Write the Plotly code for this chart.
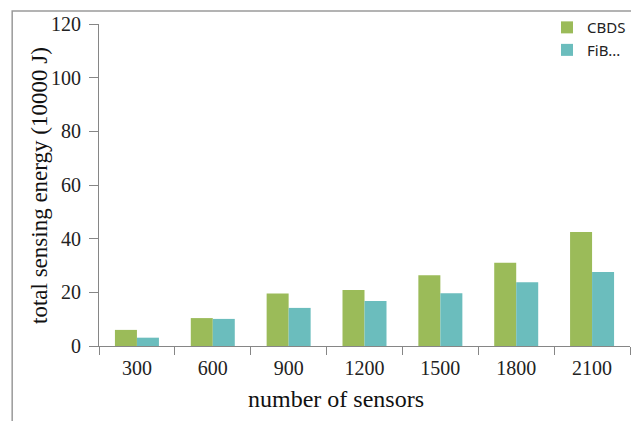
import plotly.graph_objects as go

sensors = ["300", "600", "900", "1200", "1500", "1800", "2100"]
cbds = [6.0, 10.4, 19.6, 20.9, 26.4, 31.0, 42.5]
fib = [3.1, 10.1, 14.2, 16.8, 19.7, 23.8, 27.6]

GREEN = "#9BBB59"
TEAL = "#6BBDBD"
AXIS = "#868686"
SERIF = "Liberation Serif, Times New Roman, serif"

fig = go.Figure()
fig.add_trace(go.Bar(x=sensors, y=cbds, name="CBDS", marker=dict(color=GREEN, line=dict(width=0))))
fig.add_trace(go.Bar(x=sensors, y=fib, name="FiB...", marker=dict(color=TEAL, line=dict(width=0))))

fig.update_xaxes(
    type="category",
    tickson="boundaries",
    ticks="outside",
    ticklen=8,
    tickcolor=AXIS,
    showline=True,
    linecolor=AXIS,
    linewidth=1,
    showgrid=False,
    ticklabelstandoff=4,
    tickfont=dict(family=SERIF, size=20, color="#222"),
)
fig.update_yaxes(
    range=[0, 120],
    tickvals=[0, 20, 40, 60, 80, 100, 120],
    ticks="outside",
    ticklen=9,
    tickcolor=AXIS,
    showline=True,
    linecolor=AXIS,
    linewidth=1,
    showgrid=False,
    zeroline=False,
    ticklabelstandoff=4,
    tickfont=dict(family=SERIF, size=20, color="#222"),
)

# outer chart frame (top and left edges visible)
fig.add_shape(type="rect", xref="paper", yref="paper",
              x0=-0.1635, x1=1.5, y0=-0.6, y1=1.04,
              line=dict(color="#9a9a9a", width=1.5), fillcolor="rgba(0,0,0,0)")

fig.add_annotation(text="total sensing energy (10000 J)", xref="paper", yref="paper",
                   x=-0.113, y=0.5, xanchor="center", yanchor="middle", textangle=-90,
                   showarrow=False, font=dict(family=SERIF, size=23, color="#111"))
fig.add_annotation(text="number of sensors", xref="paper", yref="paper",
                   x=0.447, y=-0.165, xanchor="center", yanchor="middle", showarrow=False,
                   font=dict(family=SERIF, size=24, color="#111"))

fig.update_layout(
    width=631,
    height=421,
    barmode="group",
    bargap=0.42,
    bargroupgap=0,
    plot_bgcolor="white",
    paper_bgcolor="white",
    margin=dict(l=99, r=0, t=24, b=75),
    legend=dict(x=0.843, y=1.04, xanchor="left", yanchor="top",
                font=dict(family="Noto Sans, DejaVu Sans, sans-serif", size=15, color="#222"),
                itemwidth=30, tracegroupgap=0, bgcolor="rgba(0,0,0,0)"),
)

fig.write_html("out.html", config={"displayModeBar": False},
               post_script="document.body.style.margin='0px';")
